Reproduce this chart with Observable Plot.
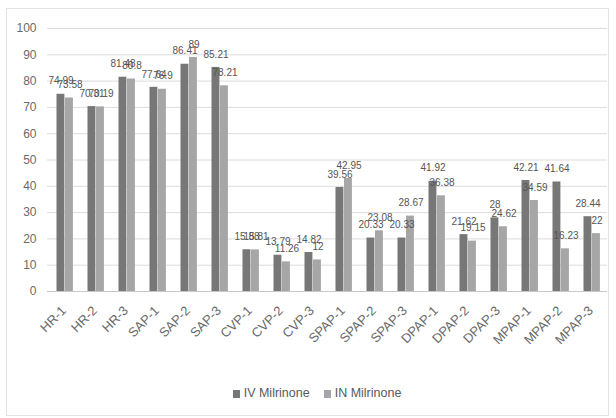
<!DOCTYPE html>
<html>
<head>
<meta charset="utf-8">
<script src="https://cdn.jsdelivr.net/npm/d3@7"></script>
<script src="https://cdn.jsdelivr.net/npm/@observablehq/plot@0.6"></script>
<style>
  html, body { margin: 0; padding: 0; background: #fff; }
  #frame {
    position: absolute; left: 6px; top: 8px; width: 603px; height: 408px;
    border: 1px solid #e3e3e3; box-sizing: border-box;
  }
  #chart { position: absolute; left: 0; top: 0; }
  #legend {
    position: absolute; left: 18px; top: 386px; width: 598px; text-align: center;
    font: 12.5px "Liberation Sans Narrow", "Liberation Sans", sans-serif; color: #595959;
  }
  #legend span.sw { display: inline-block; width: 7px; height: 8px; margin-right: 4px; vertical-align: -1px; }
  #legend span.item { margin: 0 7px; }
</style>
</head>
<body>
<div id="frame"></div>
<div id="chart"></div>
<div id="legend"></div>
<script>
// Haemodynamic parameters at three time points, IV vs IN milrinone
const categories = ["HR-1","HR-2","HR-3","SAP-1","SAP-2","SAP-3","CVP-1","CVP-2","CVP-3",
  "SPAP-1","SPAP-2","SPAP-3","DPAP-1","DPAP-2","DPAP-3","MPAP-1","MPAP-2","MPAP-3"];
const ivMilrinone = [74.99, 70.31, 81.48, 77.64, 86.41, 85.21, 15.88, 13.79, 14.82,
  39.56, 20.33, 20.33, 41.92, 21.62, 28, 42.21, 41.64, 28.44];
const inMilrinone = [73.58, 70.19, 80.8, 76.9, 89, 78.21, 15.81, 11.26, 12,
  42.95, 23.08, 28.67, 36.38, 19.15, 24.62, 34.59, 16.23, 22];
const seriesNames = ["IV Milrinone", "IN Milrinone"];
const seriesColors = ["#777777", "#a6a6a6"];
const yTicks = [0, 10, 20, 30, 40, 50, 60, 70, 80, 90, 100];

const rows = categories.flatMap((c, i) => [
  {cat: c, series: seriesNames[0], value: ivMilrinone[i]},
  {cat: c, series: seriesNames[1], value: inMilrinone[i]}
]);
const iv = rows.filter(d => d.series === seriesNames[0]);
const inn = rows.filter(d => d.series === seriesNames[1]);

const font = '"Liberation Sans Narrow", "Liberation Sans", sans-serif';

const chart = Plot.plot({
  width: 616,
  height: 372,
  marginTop: 28,
  marginBottom: 81,
  marginLeft: 47,
  marginRight: 9,
  style: {fontFamily: '"Liberation Sans", sans-serif', fontSize: "12px", color: "#6a6a6a", background: "transparent"},
  x: {domain: categories, padding: 0, label: null, tickRotate: -45, tickSize: 0, tickPadding: 17},
  y: {domain: [0, 100], ticks: yTicks, label: null, tickSize: 0, tickPadding: 11},
  marks: [
    Plot.ruleY(yTicks.filter(t => t > 0), {stroke: "#dcdcdc", strokeWidth: 1}),
    Plot.ruleY([0], {stroke: "#c8c8c8", strokeWidth: 1}),
    Plot.barY(iv, {x: "cat", y: "value", fill: seriesColors[0], insetLeft: 8.5, insetRight: 14.6}),
    Plot.barY(inn, {x: "cat", y: "value", fill: seriesColors[1], insetLeft: 17, insetRight: 6.1}),
    Plot.text(iv, {x: "cat", y: "value", text: d => String(d.value), dx: -3, dy: -13,
      fill: "#555", fontSize: 10, fontFamily: font}),
    Plot.text(inn, {x: "cat", y: "value", text: d => String(d.value), dx: 6, dy: -13,
      fill: "#555", fontSize: 10, fontFamily: font})
  ]
});
chart.querySelectorAll('g[aria-label="x-axis tick label"] text').forEach(t => t.setAttribute("font-size", 13));
document.getElementById("chart").appendChild(chart);

const legend = document.getElementById("legend");
seriesNames.forEach((name, i) => {
  const item = document.createElement("span");
  item.className = "item";
  const sw = document.createElement("span");
  sw.className = "sw";
  sw.style.background = seriesColors[i];
  item.appendChild(sw);
  item.appendChild(document.createTextNode(name));
  legend.appendChild(item);
});
</script>
</body>
</html>
